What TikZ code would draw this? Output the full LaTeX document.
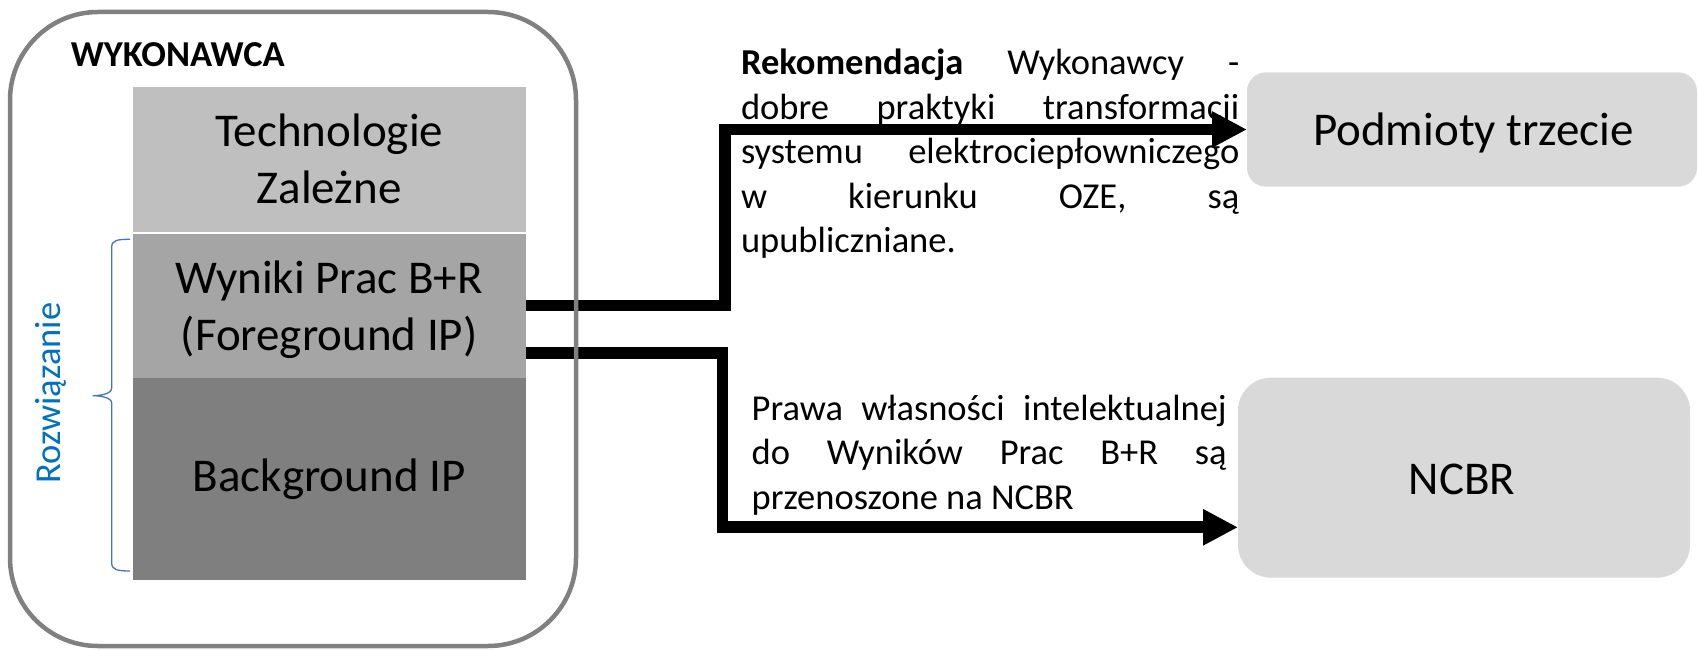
\documentclass[tikz,border=0pt]{standalone}
\usepackage{fontspec}
\setmainfont{Carlito}
\usetikzlibrary{arrows.meta,calc}
\definecolor{techc}{HTML}{BFBFBF}
\definecolor{wync}{HTML}{A5A5A5}
\definecolor{bgc}{HTML}{7F7F7F}
\definecolor{boxc}{HTML}{D9D9D9}
\definecolor{framec}{HTML}{808080}
\definecolor{bluetxt}{HTML}{0070C0}
\definecolor{bracec}{HTML}{4472C4}
\newcommand{\bigfnt}{\fontsize{47}{56.7}\selectfont}
\newcommand{\smallfnt}{\fontsize{36.5}{44.5}\selectfont}
\newcommand{\justline}[1]{\makebox[\linewidth][s]{#1}}
\begin{document}
\begin{tikzpicture}[x=1pt,y=-1pt,
  layerbox/.style={inner sep=0,outer sep=0,minimum width=393pt},
  destbox/.style={inner sep=0,outer sep=0,fill=boxc},
  bigtxt/.style={inner sep=0,outer sep=0,font=\bigfnt},
  conn/.style={line width=11.7pt,line join=miter,-{Triangle[length=35pt,width=34pt]}}]
\useasboundingbox (0,0) rectangle (1698,650);

% layered boxes
\node[layerbox,fill=techc,minimum height=145.4pt] (tech) at (329.2,160) {};
\node[layerbox,fill=wync,minimum height=145.6pt] (wyn) at (329.2,305.5) {};
\node[layerbox,fill=bgc,minimum height=201.7pt] (bg) at (329.2,479.15) {};
\draw[white,line width=2pt] (tech.south west) -- (tech.south east);

\node[bigtxt,anchor=base west] (techtxt) at (132.7,146.7)
  {\parbox[t]{393pt}{\centering\bigfnt Technologie\\Zależne}};
\node[bigtxt,anchor=base west] (wyntxt) at (132.7,293.3)
  {\parbox[t]{393pt}{\centering\bigfnt Wyniki Prac B+R\\(Foreground IP)}};
\node[bigtxt,anchor=base] (bgtxt) at (329.2,491.7) {Background IP};

% label
\node[inner sep=0,anchor=base west,font=\fontsize{36.5}{42}\selectfont\bfseries] (wykt) at (70.7,66.7) {WYKONAWCA};

% brace and its label
\draw[bracec,line width=1.3pt] (130,239.3) .. controls (118,239.3) and (111.7,240) .. (111.7,247)
  -- (111.7,388) .. controls (111.7,394) and (100,395.7) .. (92.7,395.7)
  .. controls (100,395.7) and (111.7,397.5) .. (111.7,403)
  -- (111.7,563) .. controls (111.7,570) and (118,571) .. (130,571);
\node[rotate=90,anchor=base,inner sep=0,text=bluetxt,font=\smallfnt] (roz) at (60,393) {Rozwiązanie};

% destination boxes
\node[destbox,rounded corners=19pt,minimum width=450pt,minimum height=114.4pt] (pod) at (1472,129.5) {};
\node[bigtxt,anchor=base] (podtxt) at (1473.5,146) {Podmioty trzecie};
\node[destbox,rounded corners=33pt,minimum width=452pt,minimum height=200pt] (ncbr) at (1464,477.7) {};
\node[bigtxt,anchor=base] (ncbrtxt) at (1462,494) {NCBR};

% descriptive texts
\node[inner sep=0,outer sep=0,anchor=base west] (rek) at (741,75)
  {\parbox[t]{498.3pt}{\smallfnt
   \justline{\textbf{Rekomendacja} Wykonawcy -}\\
   \justline{dobre praktyki transformacji}\\
   \justline{systemu elektrociepłowniczego}\\
   \justline{w kierunku OZE, są}\\
   upubliczniane.}};
\node[inner sep=0,outer sep=0,anchor=base west] (praw) at (751.7,420)
  {\parbox[t]{475pt}{\smallfnt
   \justline{Prawa własności intelektualnej}\\
   \justline{do Wyników Prac B+R są}\\
   przenoszone na NCBR}};

% connectors
\draw[conn] (wyn.east) -- (725.3,305.5) |- (pod.west);
\draw[conn] ($(wyn.east)+(0,47.8)$) -- (722.5,353.3) |- ($(ncbr.west)+(0,49.6)$);

% outer frame (drawn on top)
\node[draw=framec,line width=4.5pt,rounded corners=88pt,inner sep=0,outer sep=0,
  minimum width=566pt,minimum height=634pt] (wyk) at (293,329) {};
\end{tikzpicture}
\end{document}
